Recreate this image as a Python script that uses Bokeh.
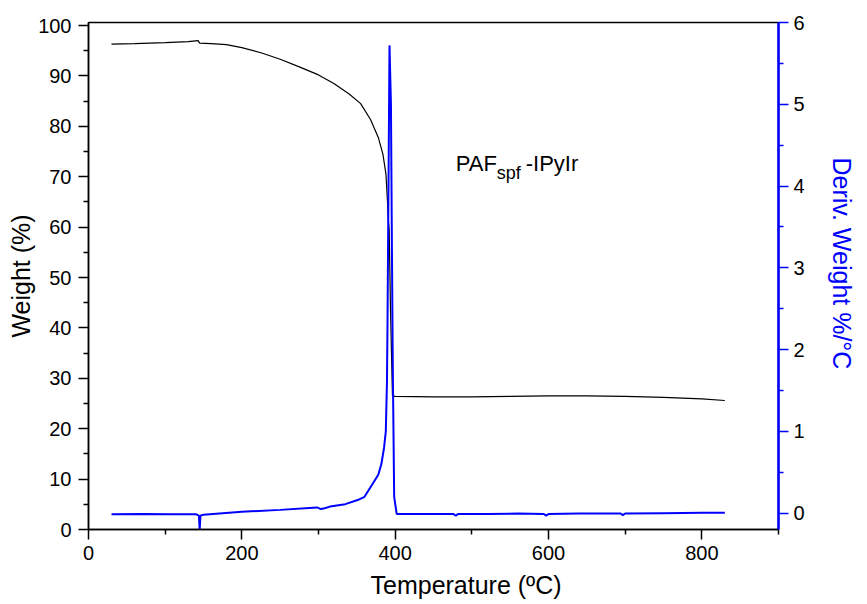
from bokeh.plotting import figure
from bokeh.models import Range1d, LinearAxis, FixedTicker, ColumnDataSource, Title
from bokeh.embed import file_html
from bokeh.resources import INLINE
from bokeh.core.properties import value

# ---- data ----
temp_weight = [30, 60, 100, 130, 143, 145, 160, 180, 200, 225, 250, 275, 300, 320,
               340, 355, 368, 378, 384, 388, 390, 391, 392.2, 394, 396.5, 400, 450,
               500, 550, 600, 650, 700, 750, 800, 830]
weight_pct = [96.3, 96.4, 96.6, 96.8, 97.0, 96.5, 96.4, 96.2, 95.6, 94.6, 93.3, 91.8,
              90.2, 88.5, 86.4, 84.5, 81.3, 77.8, 74.5, 70.5, 65.0, 61.5, 59.5, 43.0,
              26.5, 26.4, 26.3, 26.3, 26.4, 26.5, 26.5, 26.4, 26.2, 25.9, 25.6]

temp_deriv = [30, 70, 110, 140, 144, 145, 146, 150, 175, 200, 250, 298, 303, 308, 315,
              335, 351, 360, 368, 378, 382, 385.5, 387.8, 389.3, 390.0, 391.3, 392.6,
              394.5, 395.8, 396.9, 398.7, 402, 410, 440, 476, 479, 482, 520, 560, 594,
              597, 600, 640, 694, 697, 700, 750, 800, 830]
deriv_weight = [-0.012, -0.01, -0.012, -0.012, -0.03, -0.21, -0.03, -0.02, 0.0, 0.016,
                0.04, 0.07, 0.05, 0.06, 0.08, 0.11, 0.16, 0.2, 0.32, 0.47, 0.6, 0.8,
                1.0, 1.6, 2.3, 4.0, 5.72, 5.0, 3.2, 1.8, 0.2, -0.01, -0.01, -0.01,
                -0.01, -0.03, -0.01, -0.01, -0.005, -0.01, -0.03, -0.01, -0.005,
                -0.005, -0.025, -0.005, 0.0, 0.005, 0.005]

x_major_ticks = [0, 200, 400, 600, 800]
x_minor_ticks = [100, 300, 500, 700, 900]
left_major_ticks = [0, 10, 20, 30, 40, 50, 60, 70, 80, 90, 100]
left_minor_ticks = [5, 15, 25, 35, 45, 55, 65, 75, 85, 95]
right_major_ticks = [0, 1, 2, 3, 4, 5, 6]
right_minor_ticks = [0.5, 1.5, 2.5, 3.5, 4.5, 5.5]

x_title = "Temperature (ºC)"
left_title = "Weight (%)"
right_title = "Deriv. Weight %/°C"
sample_parts = ["PAF", "spf", "-IPyIr"]
sample_x = 479
sample_y = 72.6

FONT = "Liberation Sans"
BLUE = "#0000FF"

p = figure(frame_width=690, frame_height=507,
           x_range=Range1d(0, 900), y_range=Range1d(0, 100.6),
           output_backend="svg", toolbar_location=None,
           min_border_left=88, min_border_right=70,
           min_border_top=22, min_border_bottom=60)
p.extra_y_ranges = {"deriv": Range1d(-0.2, 6)}
p.xgrid.visible = False
p.ygrid.visible = False
p.outline_line_color = "black"
p.outline_line_width = 1.5
p.background_fill_color = "white"
p.border_fill_color = "white"


def style_axis(ax, color, major, minor):
    ax.ticker = FixedTicker(ticks=major, minor_ticks=minor)
    ax.axis_line_color = color
    ax.major_tick_line_color = color
    ax.minor_tick_line_color = color
    ax.major_tick_in = 0
    ax.minor_tick_in = 0
    ax.major_tick_out = 10
    ax.minor_tick_out = 5
    ax.major_tick_line_width = 1.5
    ax.minor_tick_line_width = 1.5
    ax.major_label_text_font = FONT
    ax.major_label_text_font_size = "20px"
    ax.major_label_text_color = "black"
    ax.axis_label_text_font = FONT
    ax.axis_label_text_font_size = "25px"
    ax.axis_label_text_font_style = "normal"


xa = p.xaxis[0]
style_axis(xa, "black", x_major_ticks, x_minor_ticks)
xa.axis_line_width = 1.5
xa.major_label_standoff = 6

ya = p.yaxis[0]
style_axis(ya, "black", left_major_ticks, left_minor_ticks)
ya.axis_line_width = 1.5
ya.major_label_standoff = 7
ya.axis_label = left_title
ya.axis_label_standoff = 0
ya.axis_label_text_color = "black"

ra = LinearAxis(y_range_name="deriv")
style_axis(ra, BLUE, right_major_ticks, right_minor_ticks)
ra.axis_line_width = 2.5
ra.major_label_standoff = 5
p.add_layout(ra, "right")

p.add_layout(Title(text=right_title, align="left", offset=135, standoff=41,
                   text_font=FONT, text_font_size="25px",
                   text_font_style="normal", text_color=BLUE), "right")

p.add_layout(Title(text=x_title, align="left", offset=282, standoff=13,
                   text_font=FONT, text_font_size="25px",
                   text_font_style="normal", text_color="black"), "below")

p.line(temp_weight, weight_pct, line_color="black", line_width=1.2)
p.line(temp_deriv, deriv_weight, line_color=BLUE, line_width=2,
       y_range_name="deriv")

lab = ColumnDataSource(dict(x=[sample_x] * 3, y=[sample_y] * 3, text=sample_parts,
                            xo=[0, 41, 70], yo=[0, 9, 0],
                            size=["22px", "18px", "22px"]))
p.text(x="x", y="y", text="text", x_offset="xo", y_offset="yo",
       text_font_size="size", text_font=value(FONT), text_color="black",
       text_align="left", text_baseline="alphabetic", source=lab)

open("out.html", "w").write(file_html(p, INLINE))
